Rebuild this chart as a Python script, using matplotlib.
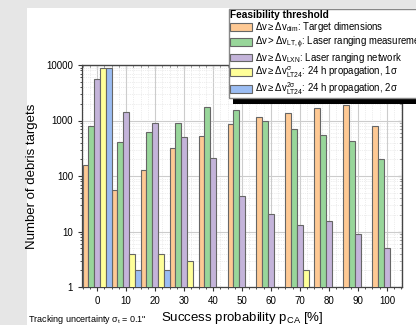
import numpy as np
import matplotlib
matplotlib.use('Agg')
from matplotlib import pyplot as plt
from matplotlib.ticker import MultipleLocator, LogLocator, NullFormatter
from matplotlib.patches import Rectangle

plt.rcParams['font.family'] = ['Liberation Sans', 'DejaVu Sans']
plt.rcParams['mathtext.fontset'] = 'custom'
plt.rcParams['mathtext.rm'] = 'Liberation Sans'
plt.rcParams['mathtext.it'] = 'Liberation Sans:italic'
plt.rcParams['mathtext.default'] = 'regular'

# success probability classes [%]
categories = [0, 10, 20, 30, 40, 50, 60, 70, 80, 90, 100]
target_dim = [160, 56, 128, 318, 520, 870, 1150, 1360, 1660, 1900, 800]
laser_meas = [800, 410, 630, 910, 1750, 1550, 980, 710, 550, 430, 200]
laser_net = [5600, 1420, 910, 505, 210, 44, 21, 13, 15.5, 9, 5]
prop_1sigma = [8700, 4, 4, 3, 1, 0, 0, 2, 0, 0, 1]
prop_2sigma = [8700, 2, 2, 0, 0, 0, 0, 0, 1, 0, 0]

labels = [
    r'$\Delta v \geq \Delta v_{dim}$: Target dimensions',
    r'$\Delta v > \Delta v_{LT,\phi}$: Laser ranging measurement',
    r'$\Delta v \geq \Delta v_{LXN}$: Laser ranging network',
    r'$\Delta v \geq \Delta v^{\sigma}_{LT24}$: 24 h propagation, 1$\sigma$',
    r'$\Delta v \geq \Delta v^{2\sigma}_{LT24}$: 24 h propagation, 2$\sigma$',
]
colors = ['#fec994', '#98d69a', '#c4b4da', '#ffff99', '#9bbdf3']
series = [target_dim, laser_meas, laser_net, prop_1sigma, prop_2sigma]

W, H = 416, 325
fig = plt.figure(figsize=(W / 100, H / 100), dpi=100, facecolor='#e6e6e6')
fig.patches.append(Rectangle((27 / W, 0), 1, 1 - 8 / H, transform=fig.transFigure,
                             facecolor='white', edgecolor='none', zorder=-5))

ax = fig.add_axes([82 / W, 1 - 287 / H, (402 - 82) / W, (287 - 65) / H])
ax.set_zorder(1)
x = np.array(categories, dtype=float)
width = 2.0
handles = []
for i, (vals, c, lab) in enumerate(zip(series, colors, labels)):
    v = np.array(vals, dtype=float)
    v = np.where(v > 0, v, np.nan)
    h = ax.bar(x + (i - 2) * width, v, width, color=c, edgecolor='#666666',
               linewidth=0.8, label=lab, zorder=3)
    handles.append(h)

ax.set_yscale('log')
ax.set_ylim(1, 10000)
ax.set_xlim(-5.2, 105.2)
ax.set_xticks(categories)
ax.xaxis.set_minor_locator(MultipleLocator(2.5))
ax.set_yticks([1, 10, 100, 1000, 10000])
ax.set_yticklabels(['1', '10', '100', '1000', '10000'])
ax.yaxis.set_minor_locator(LogLocator(base=10, subs=np.arange(2, 10)))
ax.yaxis.set_minor_formatter(NullFormatter())

ax.grid(True, which='major', color='#cccccc', linewidth=0.8, zorder=0)
ax.grid(True, which='minor', color='#dddddd', linewidth=0.5, linestyle=':', zorder=0)
ax.set_axisbelow(True)

ax.tick_params(which='both', direction='out', labelsize=7, colors='#333333',
               labelcolor='black', top=False, right=False)
ax.tick_params(which='major', length=3)
ax.tick_params(which='minor', length=1.5)
for s in ax.spines.values():
    s.set_color('#444444')
    s.set_linewidth(0.9)

sec_x = ax.secondary_xaxis('top')
sec_x.set_xticks(categories)
sec_x.xaxis.set_minor_locator(MultipleLocator(2.5))
sec_x.tick_params(which='both', direction='in', labeltop=False, colors='#333333')
sec_x.tick_params(which='major', length=3)
sec_x.tick_params(which='minor', length=1.5)
sec_y = ax.secondary_yaxis('right')
sec_y.set_yticks([1, 10, 100, 1000, 10000])
sec_y.tick_params(which='both', direction='in', labelright=False, colors='#333333')
sec_y.tick_params(which='major', length=3)
sec_y.tick_params(which='minor', length=1.5)

ax.set_xlabel(r'Success probability p$_{CA}$ [%]', fontsize=9.5, labelpad=3)
ax.set_ylabel('Number of debris targets', fontsize=9.5, labelpad=6)

fig.text(28 / W, 1 - 320 / H, r'Tracking uncertainty $\sigma_t$ = 0.1"',
         fontsize=6.5, va='center', ha='left')

leg = fig.legend(handles=handles, loc='upper left', bbox_to_anchor=(229 / W, 1 - 9 / H),
                 title='Feasibility threshold', fontsize=6.9, title_fontsize=7.3,
                 frameon=True, fancybox=False, framealpha=1, edgecolor='#888888',
                 handlelength=2.2, handleheight=0.85, handletextpad=0.4,
                 labelspacing=0.0, borderpad=0.15, borderaxespad=0)
leg.get_title().set_fontweight('bold')
leg._legend_box.align = 'left'
leg.set_zorder(5)

# hard black shadow under the legend box
fig.canvas.draw()
bb = leg.get_window_extent()
fig.patches.append(Rectangle((bb.x0 + 4, bb.y0 - 6), W, 6, transform=None,
                             facecolor='black', edgecolor='none', zorder=4))

fig.savefig('out.png', dpi=100, facecolor=fig.get_facecolor())
